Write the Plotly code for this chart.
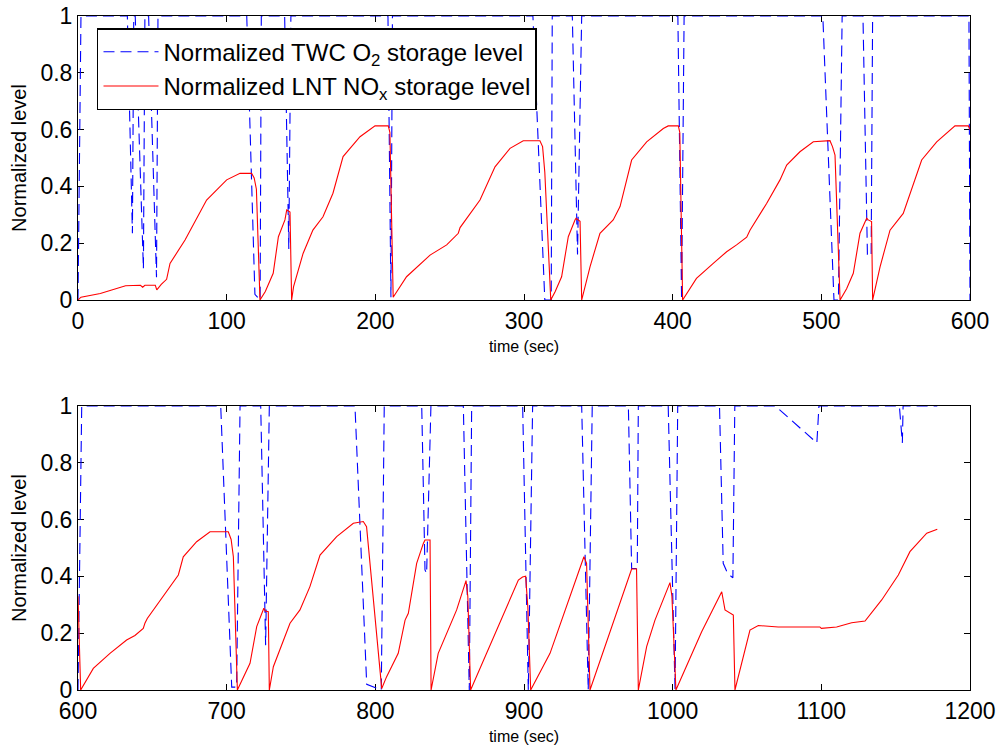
import plotly.graph_objects as go
from plotly.subplots import make_subplots

# ---------------- data ----------------
# Top panel, LNT NOx storage level (red)
t_top_nox = [0, 2, 15, 25, 32, 42, 43.5, 45, 52, 53, 56, 59.6, 61.9, 72, 86.5, 100, 109, 116.8,
             118.5, 120, 122.4, 126, 131.3, 134.8, 139.2, 140.4, 142.6, 143.7, 145, 151.4, 158,
             164.8, 171.5, 178.3, 189.7, 199.8, 208.7, 209.8, 212, 221, 236.8, 248, 255.8, 257,
             270.4, 280.5, 290.6, 299.5, 310.7, 312.5, 314, 318, 321, 325.3, 329.8, 334.3, 335,
             337.7, 338.8, 344.4, 351.1, 360, 364.6, 372.4, 382.5, 393.7, 397, 403.8, 404.8,
             406.7, 416, 427.3, 436.3, 443, 449.8, 452, 463.2, 472.2, 476.7, 485.6, 494.6, 505.8,
             507.5, 509.2, 512.6, 517, 521.5, 526, 530.5, 531.5, 533.8, 534.5, 539.5, 546.2,
             555.1, 567.5, 577.6, 589.9, 598.9, 600]
y_top_nox = [0.0, 0.01, 0.023, 0.04, 0.05, 0.052, 0.045, 0.052, 0.052, 0.036, 0.055, 0.073, 0.129,
             0.211, 0.352, 0.423, 0.446, 0.446, 0.43, 0.39, 0.0, 0.03, 0.094, 0.223, 0.282, 0.317,
             0.31, 0.0, 0.047, 0.164, 0.246, 0.293, 0.376, 0.505, 0.575, 0.613, 0.613, 0.59, 0.01,
             0.082, 0.158, 0.194, 0.235, 0.255, 0.352, 0.469, 0.534, 0.561, 0.561, 0.54, 0.45, 0.0,
             0.03, 0.082, 0.223, 0.282, 0.288, 0.277, 0.0, 0.117, 0.235, 0.282, 0.329, 0.493,
             0.557, 0.604, 0.613, 0.613, 0.59, 0.0, 0.076, 0.129, 0.170, 0.194, 0.221, 0.246,
             0.340, 0.423, 0.475, 0.522, 0.557, 0.561, 0.54, 0.51, 0.0, 0.04, 0.094, 0.235, 0.288,
             0.282, 0.276, 0.0, 0.117, 0.246, 0.305, 0.493, 0.557, 0.613, 0.613, 0.6]

# Top panel, TWC O2 storage level (blue dashed)
t_top_o2 = [0, 2, 33.2, 36.6, 37.5, 38.5, 44, 45, 47.5, 52.8, 53.8, 113.5, 119, 122.5, 123.3,
            139, 141.8, 143.2, 208.5, 210.5, 211.5, 306, 314, 318.3, 319, 332.5, 336, 338.8,
            403.5, 406, 407.7, 501, 508.5, 511.5, 514, 528, 531, 533.5, 534.5, 599.3, 600]
y_top_o2 = [0, 1, 1, 0.235, 1, 1, 0.11, 1, 1, 0.08, 1, 1, 0.02, 0.0, 1,
            1, 0.18, 1, 1, 0.01, 1, 1, 0.0, 0.0, 1, 1, 0.16, 1,
            1, 0.0, 1, 1, 0.0, 0.0, 1, 1, 0.16, 0.155, 1, 1, 0.0]

# Bottom panel, LNT NOx storage level (red)
t_bot_nox = [600, 601.8, 610.3, 621.5, 632.7, 638.3, 643.9, 645, 646.6, 657.4, 667.5, 670.8,
             679.8, 688.8, 701.1, 703, 704.5, 707.2, 712.3, 715.7, 720.2, 724.6, 725, 726, 728,
             728.7, 731.4, 742.6, 749.3, 756, 762.8, 774, 785.2, 791.9, 794.1, 804.3, 807.6,
             815.4, 820, 822.2, 827.8, 832.3, 833.4, 836.8, 837.5, 842.3, 848, 854.7, 861, 862.2,
             864.1, 892.8, 896.2, 899, 901.1, 902.6, 904.5, 917.5, 940.3, 942.1, 944.4, 972.4,
             975.7, 976.9, 982.5, 988.1, 998.2, 999.5, 1002.2, 1019.5, 1033, 1035.2, 1040.8,
             1041.9, 1052, 1057.6, 1071, 1099, 1100, 1110.3, 1120.4, 1129.4, 1140.6, 1151.8,
             1154, 1159.6, 1170.9, 1178]
y_bot_nox = [0.33, 0.0, 0.076, 0.129, 0.176, 0.192, 0.217, 0.235, 0.252, 0.329, 0.405, 0.469,
             0.522, 0.557, 0.557, 0.53, 0.469, 0.0, 0.053, 0.094, 0.223, 0.282, 0.288, 0.278,
             0.276, 0.0, 0.082, 0.235, 0.282, 0.364, 0.475, 0.54, 0.587, 0.593, 0.575, 0.005,
             0.047, 0.129, 0.246, 0.27, 0.446, 0.516, 0.528, 0.528, 0.0, 0.129, 0.2, 0.282, 0.385,
             0.33, 0.0, 0.346, 0.387, 0.398, 0.401, 0.29, 0.0, 0.129, 0.469, 0.446, 0.0, 0.426,
             0.426, 0.0, 0.153, 0.246, 0.378, 0.33, 0.0, 0.205, 0.346, 0.282, 0.264, 0.0, 0.211,
             0.227, 0.222, 0.222, 0.217, 0.222, 0.237, 0.243, 0.317, 0.405, 0.429, 0.487, 0.552,
             0.566]

# Bottom panel, TWC O2 storage level (blue dashed)
t_bot_o2 = [600, 602.5, 696, 703.4, 706.7, 709, 722.9, 726.2, 728.7, 786.3, 794.2, 804, 806,
            831.2, 833.4, 834.5, 837.4, 859.2, 863.2, 864.8, 899.1, 902.9, 905.8, 938.8, 943.2,
            945.9, 970.2, 972.4, 976.2, 976.9, 997, 1001.6, 1003.4, 1031.5, 1034, 1037, 1040.5,
            1041.8, 1069, 1097, 1098.4, 1152.5, 1154.5, 1155, 1178]
y_bot_o2 = [0, 1, 1, 0.01, 0.01, 1, 1, 0.158, 1, 1, 0.02, 0.0, 1,
            1, 0.423, 0.41, 1, 1, 0.0, 1, 1, 0.0, 1, 1, 0.0,
            1, 1, 0.428, 0.428, 1, 1, 0.0, 1, 1, 0.446, 0.41, 0.395,
            1, 1, 0.87, 1, 1, 0.87, 1, 1]

x_ticks_top = [0, 100, 200, 300, 400, 500, 600]
x_ticks_bot = [600, 700, 800, 900, 1000, 1100, 1200]
y_ticks = [0, 0.2, 0.4, 0.6, 0.8, 1]
y_tick_text = ["0", "0.2", "0.4", "0.6", "0.8", "1"]

name_o2 = "Normalized TWC O<sub>2</sub> storage level"
name_nox = "Normalized LNT NO<sub>x</sub> storage level"

# ---------------- figure ----------------
FONT = "Liberation Sans, Arial, Helvetica, sans-serif"
BLUE = "#0000ff"
RED = "#ff0000"
DASH = "11px,6px"

fig = make_subplots(rows=2, cols=1, shared_xaxes=False, vertical_spacing=0.1)

fig.add_trace(go.Scatter(x=t_top_o2, y=y_top_o2, mode="lines", name=name_o2,
                         line=dict(color=BLUE, width=1.1, dash=DASH), legendrank=1),
              row=1, col=1)
fig.add_trace(go.Scatter(x=t_top_nox, y=y_top_nox, mode="lines", name=name_nox,
                         line=dict(color=RED, width=1.1), legendrank=2),
              row=1, col=1)
fig.add_trace(go.Scatter(x=t_bot_o2, y=y_bot_o2, mode="lines", name=name_o2, showlegend=False,
                         line=dict(color=BLUE, width=1.1, dash=DASH)),
              row=2, col=1)
fig.add_trace(go.Scatter(x=t_bot_nox, y=y_bot_nox, mode="lines", name=name_nox, showlegend=False,
                         line=dict(color=RED, width=1.1)),
              row=2, col=1)

axis_common = dict(showgrid=False, zeroline=False, showline=True, linecolor="black",
                   linewidth=1, mirror="ticks", ticks="inside", ticklen=6, tickwidth=1,
                   tickcolor="black", tickfont=dict(family=FONT, size=23, color="black"),
                   layer="below traces", automargin=False)

fig.update_xaxes(**axis_common)
fig.update_yaxes(**axis_common)

xtitle_font = dict(family=FONT, size=16, color="black")
ytitle_font = dict(family=FONT, size=20, color="black")

fig.update_xaxes(range=[0, 600], tickvals=x_ticks_top, domain=[0, 1],
                 title=dict(text="time (sec)", font=xtitle_font, standoff=8), row=1, col=1)
fig.update_xaxes(range=[600, 1200], tickvals=x_ticks_bot, domain=[0, 1],
                 title=dict(text="time (sec)", font=xtitle_font, standoff=8), row=2, col=1)
fig.update_yaxes(range=[0, 1], tickvals=y_ticks, ticktext=y_tick_text, domain=[0.5786, 1.0],
                 title=dict(text="Normalized level", font=ytitle_font, standoff=8), row=1, col=1)
fig.update_yaxes(range=[0, 1], tickvals=y_ticks, ticktext=y_tick_text, domain=[0.0, 0.4214],
                 title=dict(text="Normalized level", font=ytitle_font, standoff=8), row=2, col=1)

fig.update_layout(
    width=1001, height=748,
    margin=dict(l=78, r=31, t=16, b=58),
    paper_bgcolor="white", plot_bgcolor="white",
    font=dict(family=FONT, color="black"),
    showlegend=True,
    legend=dict(x=0.0213, y=0.982, xanchor="left", yanchor="top",
                bgcolor="white", bordercolor="black", borderwidth=1.5,
                font=dict(family=FONT, size=24, color="black"),
                itemwidth=55, tracegroupgap=0),
)

fig.write_html("out.html")
